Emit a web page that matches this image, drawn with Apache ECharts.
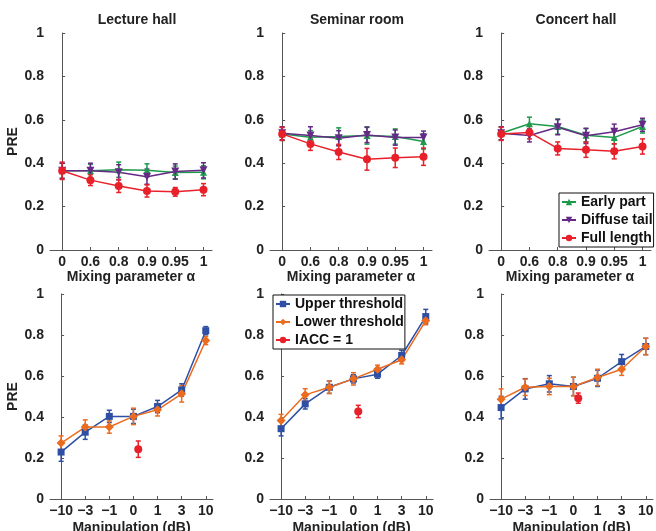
<!DOCTYPE html>
<html>
<head>
<meta charset="utf-8">
<script src="https://cdn.jsdelivr.net/npm/echarts@6/dist/echarts.min.js"></script>
<style>
  html, body { margin: 0; padding: 0; background: #fff; }
  #chart { width: 656px; height: 531px; }
</style>
</head>
<body>
<div id="chart"></div>
<script>
// tick labels
var alphaLabels = ['0', '0.6', '0.8', '0.9', '0.95', '1'];
var dbLabels = ['\u221210', '\u22123', '\u22121', '0', '1', '3', '10'];
var roomTitles = ['Lecture hall', 'Seminar room', 'Concert hall'];

// top row: PRE vs mixing parameter
var lectureEarly = [0.365, 0.365, 0.37, 0.367, 0.357, 0.358];
var lectureDiffuse = [0.365, 0.365, 0.358, 0.338, 0.362, 0.367];
var lectureFull = [0.365, 0.322, 0.295, 0.272, 0.268, 0.278];
var seminarEarly = [0.535, 0.52, 0.523, 0.528, 0.523, 0.50];
var seminarDiffuse = [0.538, 0.528, 0.515, 0.53, 0.518, 0.518];
var seminarFull = [0.535, 0.489, 0.452, 0.418, 0.425, 0.43];
var concertEarly = [0.538, 0.582, 0.569, 0.529, 0.518, 0.569];
var concertDiffuse = [0.538, 0.528, 0.566, 0.526, 0.545, 0.577];
var concertFull = [0.535, 0.542, 0.468, 0.462, 0.455, 0.477];

var lectureEarlyErr = [0.035, 0.03, 0.035, 0.03, 0.03, 0.03];
var lectureDiffuseErr = [0.035, 0.035, 0.035, 0.035, 0.035, 0.035];
var lectureFullErr = [0.04, 0.025, 0.03, 0.028, 0.02, 0.028];
var seminarEarlyErr = [0.03, 0.03, 0.04, 0.04, 0.035, 0.035];
var seminarDiffuseErr = [0.03, 0.04, 0.035, 0.035, 0.035, 0.03];
var seminarFullErr = [0.03, 0.03, 0.035, 0.05, 0.045, 0.04];
var concertEarlyErr = [0.03, 0.03, 0.035, 0.03, 0.03, 0.03];
var concertDiffuseErr = [0.03, 0.03, 0.035, 0.035, 0.035, 0.03];
var concertFullErr = [0.03, 0.03, 0.03, 0.035, 0.035, 0.035];

// bottom row: PRE vs manipulation
var lectureUpper = [0.229, 0.326, 0.403, 0.403, 0.451, 0.532, 0.821];
var lectureLower = [0.273, 0.351, 0.351, 0.403, 0.435, 0.513, 0.773];
var seminarUpper = [0.343, 0.464, 0.545, 0.586, 0.609, 0.70, 0.89];
var seminarLower = [0.383, 0.508, 0.545, 0.586, 0.633, 0.679, 0.87];
var concertUpper = [0.446, 0.537, 0.562, 0.549, 0.589, 0.67, 0.744];
var concertLower = [0.487, 0.545, 0.549, 0.549, 0.593, 0.633, 0.744];
var iaccValues = [0.243, 0.427, 0.492];
var iaccPos = 3.2;

var lectureUpperErr = [0.045, 0.035, 0.03, 0.035, 0.03, 0.03, 0.02];
var lectureLowerErr = [0.035, 0.035, 0.03, 0.04, 0.03, 0.04, 0.02];
var seminarUpperErr = [0.035, 0.025, 0.03, 0.02, 0.02, 0.025, 0.035];
var seminarLowerErr = [0.03, 0.03, 0.03, 0.03, 0.02, 0.02, 0.02];
var concertUpperErr = [0.055, 0.05, 0.04, 0.045, 0.04, 0.035, 0.04];
var concertLowerErr = [0.05, 0.04, 0.04, 0.045, 0.04, 0.03, 0.04];
var iaccErr = [0.04, 0.03, 0.025];

var GREEN = '#1f9a4c', PURPLE = '#642a86', RED = '#e8202a', BLUE = '#2e4fa3', ORANGE = '#ec6c1f';
var FONT = 'Liberation Sans, Arial, sans-serif';

var chart = echarts.init(document.getElementById('chart'));

var topLefts = [50, 270, 489];
var botLefts = [50, 270, 490];
var grids = [], xAxes = [], yAxes = [], series = [], titles = [];

function pts(vals) {
  return vals.map(function (v, i) { return [i, v]; });
}
function errPts(vals, errs, xs) {
  return vals.map(function (v, i) { return [xs ? xs[i] : i, v - errs[i], v + errs[i]]; });
}

function errorSeries(idx, vals, errs, color, xs) {
  return {
    type: 'custom',
    xAxisIndex: idx, yAxisIndex: idx,
    silent: true,
    z: 1,
    encode: { x: 0, y: [1, 2] },
    data: errPts(vals, errs, xs),
    renderItem: function (params, api) {
      var top = api.coord([api.value(0), api.value(2)]);
      var bot = api.coord([api.value(0), api.value(1)]);
      var w = 2.5;
      var st = { stroke: color, lineWidth: 1.5 };
      return {
        type: 'group',
        children: [
          { type: 'line', shape: { x1: top[0], y1: top[1], x2: bot[0], y2: bot[1] }, style: st },
          { type: 'line', shape: { x1: top[0] - w, y1: top[1], x2: top[0] + w, y2: top[1] }, style: st },
          { type: 'line', shape: { x1: bot[0] - w, y1: bot[1], x2: bot[0] + w, y2: bot[1] }, style: st }
        ]
      };
    }
  };
}

function lineSeries(idx, name, vals, color, symbol, size, rotate) {
  return {
    type: 'line', name: name,
    xAxisIndex: idx, yAxisIndex: idx,
    data: pts(vals),
    symbol: symbol, symbolSize: size, symbolRotate: rotate || 0,
    itemStyle: { color: color },
    lineStyle: { color: color, width: 1.5 },
    z: 3
  };
}

function addPanel(idx, left, top, width, height, labels, xmin, xmax, xname, nameGap, showPre) {
  grids.push({ left: left, top: top, width: width, height: height, outerBoundsMode: 'none' });
  var ticks = labels.map(function (l, i) { return i; });
  xAxes.push({
    type: 'value', gridIndex: idx, min: xmin, max: xmax,
    splitLine: { show: false },
    axisLine: { lineStyle: { color: '#555', width: 1 } },
    axisTick: { inside: true, length: 3, customValues: ticks, lineStyle: { color: '#555' } },
    axisLabel: {
      customValues: ticks, color: '#222', fontFamily: FONT, fontWeight: 'bold', fontSize: 14, margin: 5,
      formatter: function (v) { return labels[Math.round(v)]; }
    },
    name: xname, nameLocation: 'middle', nameGap: nameGap,
    nameTextStyle: { color: '#222', fontFamily: FONT, fontWeight: 'bold', fontSize: 14 }
  });
  yAxes.push({
    type: 'value', gridIndex: idx, min: 0, max: 1, interval: 0.2,
    splitLine: { show: false },
    axisLine: { show: true, lineStyle: { color: '#555', width: 1 } },
    axisTick: { show: true, inside: true, length: 3, lineStyle: { color: '#555' } },
    axisLabel: { color: '#222', fontFamily: FONT, fontWeight: 'bold', fontSize: 14, margin: 6 },
    name: showPre ? 'PRE' : '', nameLocation: 'middle', nameGap: 27,
    nameTextStyle: { color: '#222', fontFamily: FONT, fontWeight: 'bold', fontSize: 14 }
  });
}

// top row
var topSets = [
  [lectureEarly, lectureDiffuse, lectureFull, lectureEarlyErr, lectureDiffuseErr, lectureFullErr],
  [seminarEarly, seminarDiffuse, seminarFull, seminarEarlyErr, seminarDiffuseErr, seminarFullErr],
  [concertEarly, concertDiffuse, concertFull, concertEarlyErr, concertDiffuseErr, concertFullErr]
];
topSets.forEach(function (s, k) {
  addPanel(k, topLefts[k], 33, 162, 217, alphaLabels, -0.43, 5.3, 'Mixing parameter \u03b1', 18, k === 0);
  titles.push({
    text: roomTitles[k], left: topLefts[k] + 82, top: 8, textAlign: 'center',
    textStyle: { color: '#222', fontFamily: FONT, fontWeight: 'bold', fontSize: 14 }
  });
  series.push(errorSeries(k, s[0], s[3], GREEN));
  series.push(errorSeries(k, s[1], s[4], PURPLE));
  series.push(errorSeries(k, s[2], s[5], RED));
  series.push(lineSeries(k, 'Early part', s[0], GREEN, 'triangle', 7));
  series.push(lineSeries(k, 'Diffuse tail', s[1], PURPLE, 'triangle', 8, 180));
  series.push(lineSeries(k, 'Full length', s[2], RED, 'circle', 8));
});

// bottom row
var botSets = [
  [lectureUpper, lectureLower, lectureUpperErr, lectureLowerErr],
  [seminarUpper, seminarLower, seminarUpperErr, seminarLowerErr],
  [concertUpper, concertLower, concertUpperErr, concertLowerErr]
];
botSets.forEach(function (s, k) {
  var idx = k + 3;
  addPanel(idx, botLefts[k], 294, 163, 205, dbLabels, -0.46, 6.3, 'Manipulation (dB)', 22, k === 0);
  series.push(errorSeries(idx, s[0], s[2], BLUE));
  series.push(errorSeries(idx, s[1], s[3], ORANGE));
  series.push(errorSeries(idx, [iaccValues[k]], [iaccErr[k]], RED, [iaccPos]));
  series.push(lineSeries(idx, 'Upper threshold', s[0], BLUE, 'rect', 7));
  series.push(lineSeries(idx, 'Lower threshold', s[1], ORANGE, 'diamond', 9));
  series.push({
    type: 'line', name: 'IACC = 1',
    xAxisIndex: idx, yAxisIndex: idx,
    data: [[iaccPos, iaccValues[k]]],
    symbol: 'circle', symbolSize: 8,
    itemStyle: { color: RED }, lineStyle: { color: RED, width: 1.5 },
    z: 3
  });
});

var legendText = { color: '#111', fontFamily: FONT, fontWeight: 'bold', fontSize: 14 };

chart.setOption({
  animation: false,
  backgroundColor: '#fff',
  title: titles,
  grid: grids,
  xAxis: xAxes,
  yAxis: yAxes,
  legend: [
    {
      data: ['Early part', 'Diffuse tail', 'Full length'],
      orient: 'vertical', left: 559, top: 193,
      itemWidth: 14, itemHeight: 8, itemGap: 4,
      padding: [2, 1, 2, 2],
      borderColor: '#111', borderWidth: 1, backgroundColor: '#fff',
      textStyle: legendText, selectedMode: false
    },
    {
      data: ['Upper threshold', 'Lower threshold', 'IACC = 1'],
      orient: 'vertical', left: 273, top: 295,
      itemWidth: 14, itemHeight: 8, itemGap: 4,
      padding: [2, 1, 2, 2],
      borderColor: '#111', borderWidth: 1, backgroundColor: '#fff',
      textStyle: legendText, selectedMode: false
    }
  ],
  series: series
});
</script>
</body>
</html>
